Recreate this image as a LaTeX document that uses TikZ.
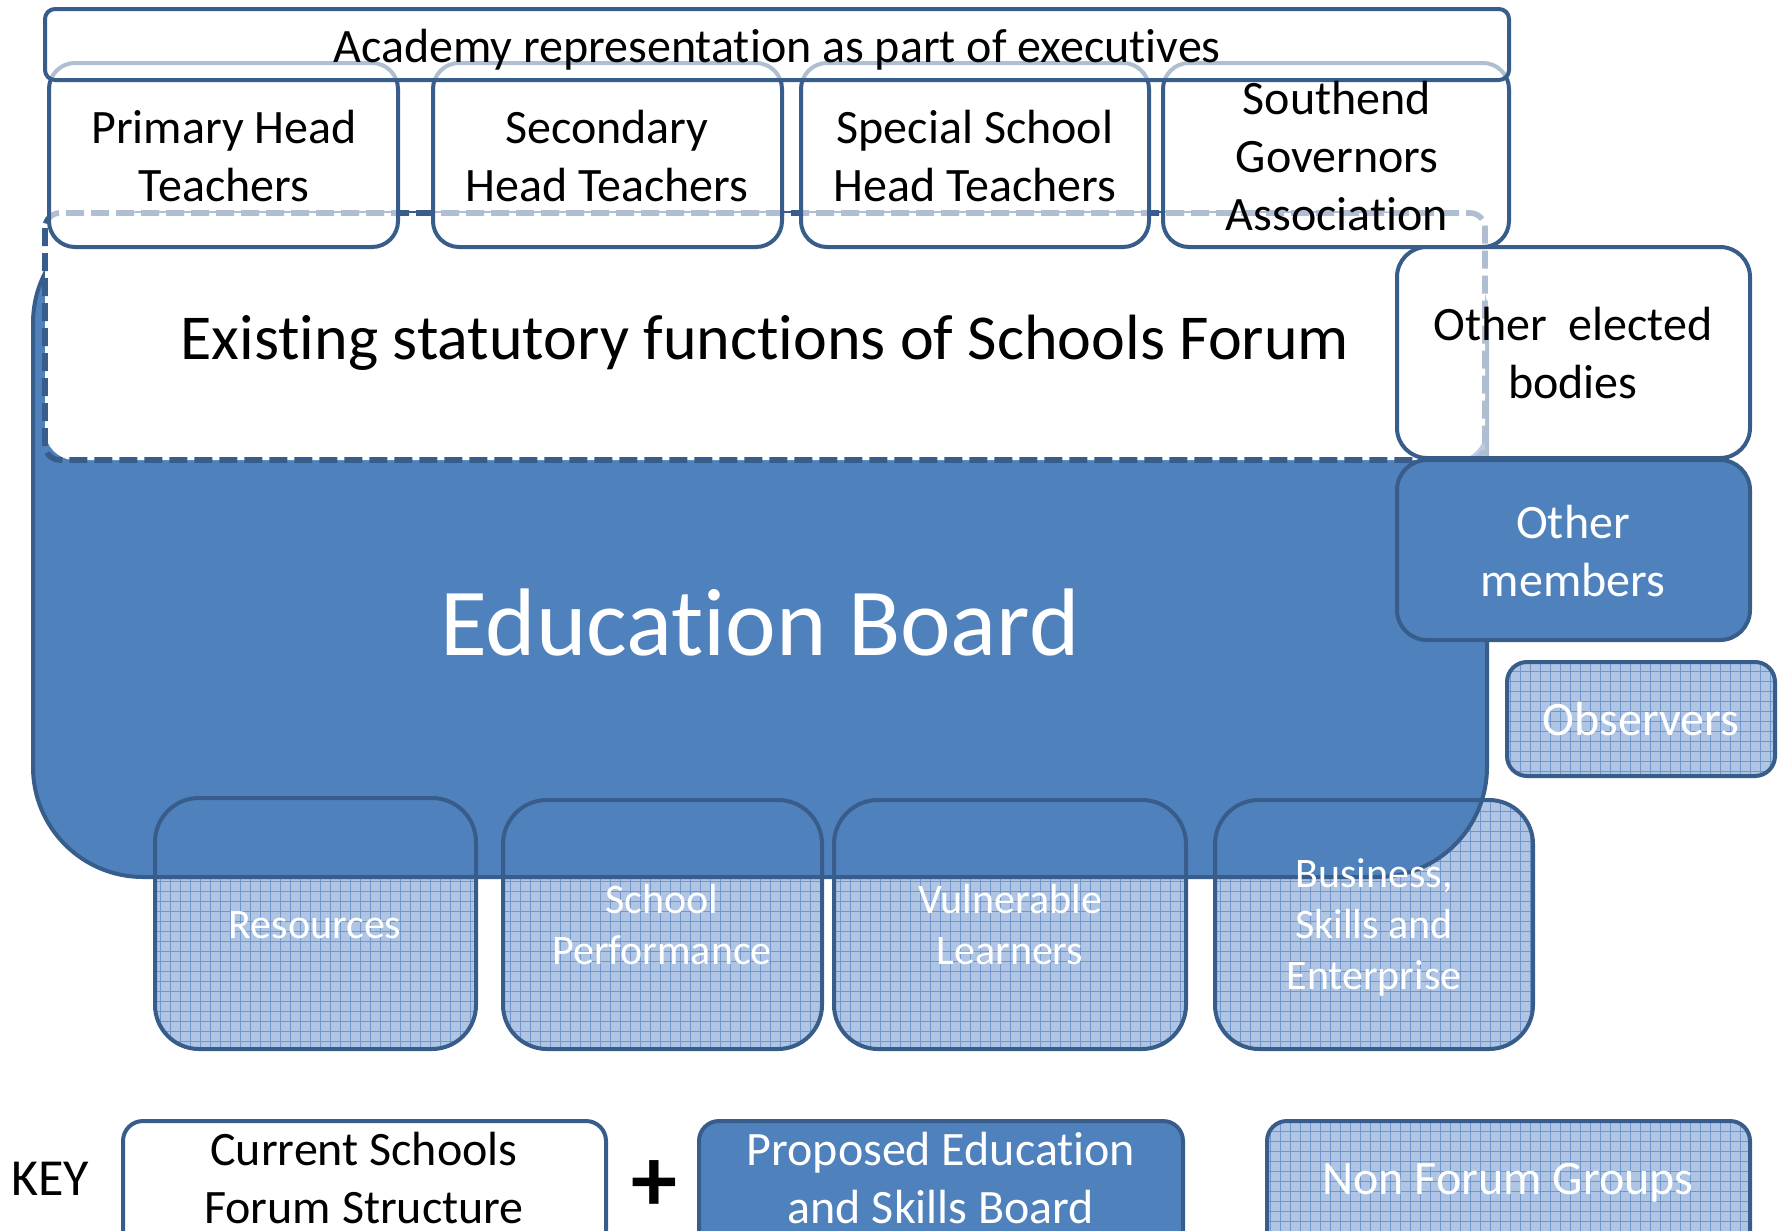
\documentclass[tikz,border=0pt]{standalone}
\usepackage{fontspec}
\setmainfont{Carlito}[Ligatures=NoCommon, Contextuals=NoAlternate]
\usetikzlibrary{patterns}
\definecolor{eb}{HTML}{4F81BD}
\definecolor{ebd}{HTML}{385D8A}
\definecolor{nfl}{HTML}{AFC5E3}
\definecolor{nfg}{HTML}{6F97CC}
\pgfdeclarepatternformonly{nfgrid}{\pgfqpoint{-0.5pt}{-0.5pt}}{\pgfqpoint{5.5pt}{5.5pt}}{\pgfqpoint{5pt}{5pt}}{%
  \pgfsetlinewidth{0.45pt}%
  \pgfpathmoveto{\pgfqpoint{0pt}{0pt}}\pgfpathlineto{\pgfqpoint{5pt}{0pt}}%
  \pgfpathmoveto{\pgfqpoint{0pt}{0pt}}\pgfpathlineto{\pgfqpoint{0pt}{5pt}}%
  \pgfusepath{stroke}}
\newcommand{\fsBox}{\fontsize{24}{29}\selectfont}
\newcommand{\fsBig}{\fontsize{32}{39}\selectfont}
\newcommand{\fsEB}{\fontsize{48}{58}\selectfont}
\newcommand{\fsSub}{\fontsize{21}{25.5}\selectfont}
\newcommand{\fsKey}{\fontsize{26}{31}\selectfont}
\tikzset{
  bd/.style={draw=ebd, line width=2pt},
  whitebox/.style={bd, fill=white},
  glassbox/.style={bd, fill=white, fill opacity=0.6, draw opacity=1},
  bluebox/.style={bd, fill=eb},
  nfbox/.style={fill=nfl, postaction={pattern=nfgrid, pattern color=nfg}},
  dashline/.style={draw=ebd, line width=2.8pt, dash pattern=on 9pt off 3.5pt},
  lbl/.style={inner sep=0pt, align=center, text=black, font=\fsBox},
  wlbl/.style={lbl, text=white},
}
\begin{document}
\begin{tikzpicture}[x=0.5pt,y=-0.5pt]
\useasboundingbox (0,0) rectangle (1784,1231);
\clip (0,0) rectangle (1784,1231);

% non-forum group fills under the board
\path[nfbox, rounded corners=22pt] (155,798) rectangle (476,1049);
\path[nfbox, rounded corners=22pt] (503,800) rectangle (822,1049);
\path[nfbox, rounded corners=22pt] (834,800) rectangle (1186,1049);
\path[nfbox, rounded corners=22pt] (1215,800) rectangle (1533,1049);

% education board
\draw[bluebox, rounded corners=55pt] (33,213) rectangle (1487,877);

% outlines of the group boxes
\draw[bd, rounded corners=22pt] (155,798) rectangle (476,1049);
\draw[bd, rounded corners=22pt] (503,800) rectangle (822,1049);
\draw[bd, rounded corners=22pt] (834,800) rectangle (1186,1049);
\draw[bd, rounded corners=22pt] (1215,800) rectangle (1533,1049);

% existing statutory functions: white area with dashed border
\fill[white, rounded corners=15pt] (45,213) rectangle (1485,460);
\coordinate (dtl) at (45,213);
\coordinate (dbr) at (1485,460);
\draw[dashline] (45,228) -- (45,445) arc[start angle=180, end angle=270, radius=7.5pt] -- (1470,460);
\draw[dashline] (1470,460) arc[start angle=270, end angle=360, radius=7.5pt] -- (1485,228) arc[start angle=0, end angle=90, radius=7.5pt] -- (60,213) arc[start angle=90, end angle=180, radius=7.5pt];

% head teacher boxes
\draw[glassbox, rounded corners=13pt] (49,63) rectangle (398,247);
\draw[glassbox, rounded corners=13pt] (433,63) rectangle (782,247);
\draw[glassbox, rounded corners=13pt] (801,63) rectangle (1149,247);
\draw[glassbox, rounded corners=13pt] (1163,63) rectangle (1509,247);

% right column
\draw[glassbox, rounded corners=15pt] (1397,247) rectangle (1750,458);
\draw[bluebox, rounded corners=15pt] (1397,460) rectangle (1750,640);
\path[nfbox, rounded corners=10pt] (1507,662) rectangle (1775,776);
\draw[bd, rounded corners=10pt] (1507,662) rectangle (1775,776);

% academy
\draw[glassbox, rounded corners=5pt] (45,9) rectangle (1509,80);

% key boxes
\draw[whitebox, rounded corners=10pt] (123,1121) rectangle (606,1290);
\draw[bluebox, rounded corners=10pt] (699,1121) rectangle (1183,1290);
\path[nfbox, rounded corners=10pt] (1267,1121) rectangle (1750,1290);
\draw[bd, rounded corners=10pt] (1267,1121) rectangle (1750,1290);

% labels
\node[lbl] (acad) at (777,50.8) {\strut Academy representation as part of executives};
\node[lbl] (prim) at (224,161.2) {\strut Primary Head\\\strut Teachers};
\node[lbl] (sec) at (607,161.2) {\strut Secondary\\\strut Head Teachers};
\node[lbl] (spec) at (975,161.2) {\strut Special School\\\strut Head Teachers};
\node[lbl] (sga) at (1337,160.8) {\strut Southend\\\strut Governors\\\strut Association};
\node[lbl, font=\fsBig] (esf) at (765,343.4) {\strut Existing statutory functions of Schools Forum};
\node[lbl] (oeb) at (1573,357.4) {\strut Other~ elected\\\strut bodies};
\node[wlbl, font=\fsEB] (ebt) at (760,631.8) {\strut Education Board};
\node[wlbl] (om) at (1573,555.4) {\strut Other\\\strut members};
\node[wlbl] (obs) at (1641,723.4) {\strut Observers};
\node[wlbl, font=\fsSub] (res) at (315,928.3) {\strut Resources};
\node[wlbl, font=\fsSub] (sp) at (662,928.8) {\strut School\\\strut Performance};
\node[wlbl, font=\fsSub] (vl) at (1010,928.8) {\strut Vulnerable\\\strut Learners};
\node[wlbl, font=\fsSub] (bse) at (1374,928.3) {\strut Business,\\\strut Skills and\\\strut Enterprise};
\node[lbl, font=\fsKey] (key) at (50,1183.2) {\strut KEY};
\node[lbl] (kc) at (364,1182.4) {\strut Current Schools\\\strut Forum Structure};
\node[lbl, font=\fontsize{46}{50}\selectfont\bfseries] (plus) at (654,1186) {+};
\node[wlbl] (kp) at (941,1182.4) {\strut Proposed Education\\\strut and Skills Board};
\node[wlbl] (kn) at (1508,1182.4) {\strut Non Forum Groups};
\end{tikzpicture}
\end{document}
